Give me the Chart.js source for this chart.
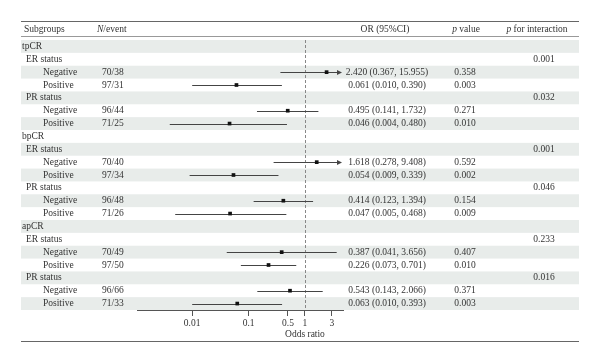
<!DOCTYPE html>
<html>
<head>
<meta charset="utf-8">
<script src="https://cdn.jsdelivr.net/npm/chart.js@4/dist/chart.umd.min.js"></script>
<style>
  html, body { margin: 0; padding: 0; background: #fff; }
</style>
</head>
<body>
<canvas id="forest" width="600" height="363"></canvas>
<script>
// rows of the table, top to bottom
const rowLabels = ['tpCR', 'ER status', 'Negative', 'Positive', 'PR status', 'Negative', 'Positive',
                   'bpCR', 'ER status', 'Negative', 'Positive', 'PR status', 'Negative', 'Positive',
                   'apCR', 'ER status', 'Negative', 'Positive', 'PR status', 'Negative', 'Positive'];
const rowLevel = [0, 1, 2, 2, 1, 2, 2, 0, 1, 2, 2, 1, 2, 2, 0, 1, 2, 2, 1, 2, 2];
const nEvent = ['', '', '70/38', '97/31', '', '96/44', '71/25',
                '', '', '70/40', '97/34', '', '96/48', '71/26',
                '', '', '70/49', '97/50', '', '96/66', '71/33'];
const oddsRatio = [null, null, 2.420, 0.061, null, 0.495, 0.046,
                   null, null, 1.618, 0.054, null, 0.414, 0.047,
                   null, null, 0.387, 0.226, null, 0.543, 0.063];
const ciLow = [null, null, 0.367, 0.010, null, 0.141, 0.004,
               null, null, 0.278, 0.009, null, 0.123, 0.005,
               null, null, 0.041, 0.073, null, 0.143, 0.010];
const ciHigh = [null, null, 15.955, 0.390, null, 1.732, 0.480,
                null, null, 9.408, 0.339, null, 1.394, 0.468,
                null, null, 3.656, 0.701, null, 2.066, 0.393];
const pValue = ['', '', '0.358', '0.003', '', '0.271', '0.010',
                '', '', '0.592', '0.002', '', '0.154', '0.009',
                '', '', '0.407', '0.010', '', '0.371', '0.003'];
const pInteraction = ['', '0.001', '', '', '0.032', '', '',
                      '', '0.001', '', '', '0.046', '', '',
                      '', '0.233', '', '', '0.016', '', ''];
const xTicks = [0.01, 0.1, 0.5, 1, 3];
const xTickLabels = ['0.01', '0.1', '0.5', '1', '3'];

const SERIF = '"Liberation Serif", "DejaVu Serif", serif';
const TEXT = '#333';
const BAND = '#e8ecea';
const TABLE_L = 21, TABLE_R = 579;

const points = [];
oddsRatio.forEach((v, i) => { if (v !== null) points.push({ x: v, y: i }); });

function drawParts(ctx, parts, x, y, align) {
    // parts: [[text, italic], ...]
    let total = 0;
    parts.forEach(p => {
        ctx.font = (p[1] ? 'italic ' : '') + '9.5px ' + SERIF;
        total += ctx.measureText(p[0]).width;
    });
    let cx = align === 'center' ? x - total / 2 : x;
    ctx.textAlign = 'left';
    parts.forEach(p => {
        ctx.font = (p[1] ? 'italic ' : '') + '9.5px ' + SERIF;
        ctx.fillText(p[0], cx, y);
        cx += ctx.measureText(p[0]).width;
    });
}

const tablePlugin = {
    id: 'forestTable',
    beforeDatasetsDraw(chart) {
        const ctx = chart.ctx;
        const xs = chart.scales.x, ys = chart.scales.y;
        const area = chart.chartArea;
        ctx.save();

        // row shading
        ctx.fillStyle = BAND;
        rowLabels.forEach((r, i) => {
            if (i % 2 !== 0) return;
            const t = ys.getPixelForValue(i - 0.5), b = ys.getPixelForValue(i + 0.5);
            ctx.fillRect(TABLE_L, t, TABLE_R - TABLE_L, b - t);
        });

        // rules
        ctx.strokeStyle = '#666';
        ctx.lineWidth = 1;
        ctx.beginPath();
        ctx.moveTo(TABLE_L, 21.5); ctx.lineTo(TABLE_R, 21.5);
        ctx.moveTo(TABLE_L, 341.5); ctx.lineTo(TABLE_R, 341.5);
        ctx.stroke();
        ctx.strokeStyle = '#999';
        ctx.beginPath();
        ctx.moveTo(TABLE_L, 36.5); ctx.lineTo(TABLE_R, 36.5);
        ctx.stroke();

        // header
        ctx.fillStyle = TEXT;
        ctx.textBaseline = 'middle';
        const hy = 29;
        drawParts(ctx, [['Subgroups', false]], 24, hy, 'left');
        drawParts(ctx, [['N', true], ['/event', false]], 97, hy, 'left');
        drawParts(ctx, [['OR (95%CI)', false]], 385, hy, 'center');
        drawParts(ctx, [['p', true], [' value', false]], 466, hy, 'center');
        drawParts(ctx, [['p', true], [' for interaction', false]], 537, hy, 'center');

        // rows
        const indent = [22, 26, 43];
        rowLabels.forEach((r, i) => {
            const y = ys.getPixelForValue(i);
            drawParts(ctx, [[r, false]], indent[rowLevel[i]], y, 'left');
            if (nEvent[i]) drawParts(ctx, [[nEvent[i], false]], 102, y, 'left');
            if (oddsRatio[i] !== null) {
                const s = oddsRatio[i].toFixed(3) + ' (' + ciLow[i].toFixed(3) + ', ' + ciHigh[i].toFixed(3) + ')';
                drawParts(ctx, [[s, false]], 387, y, 'center');
            }
            if (pValue[i]) drawParts(ctx, [[pValue[i], false]], 465, y, 'center');
            if (pInteraction[i]) drawParts(ctx, [[pInteraction[i], false]], 544, y, 'center');
        });

        // reference line at OR = 1
        const x1 = Math.round(xs.getPixelForValue(1)) + 0.5;
        ctx.strokeStyle = '#888';
        ctx.setLineDash([3, 2]);
        ctx.beginPath();
        ctx.moveTo(x1, area.top);
        ctx.lineTo(x1, area.bottom);
        ctx.stroke();
        ctx.setLineDash([]);

        // confidence intervals
        ctx.strokeStyle = '#444';
        ctx.fillStyle = '#444';
        rowLabels.forEach((r, i) => {
            if (oddsRatio[i] === null) return;
            const y = Math.round(ys.getPixelForValue(i)) + 0.5;
            const xl = Math.max(xs.getPixelForValue(ciLow[i]), area.left);
            const over = ciHigh[i] > xs.max;
            const xr = over ? area.right - 1 : xs.getPixelForValue(ciHigh[i]);
            ctx.beginPath();
            ctx.moveTo(xl, y);
            ctx.lineTo(over ? xr - 3 : xr, y);
            ctx.stroke();
            if (over) {
                ctx.beginPath();
                ctx.moveTo(xr, y);
                ctx.lineTo(xr - 5, y - 2.5);
                ctx.lineTo(xr - 5, y + 2.5);
                ctx.closePath();
                ctx.fill();
            }
        });

        // axis title
        ctx.fillStyle = TEXT;
        drawParts(ctx, [['Odds ratio', false]], xs.getPixelForValue(1), 334, 'center');
        ctx.restore();
    }
};

new Chart(document.getElementById('forest'), {
    type: 'scatter',
    data: {
        datasets: [{
            data: points,
            pointStyle: 'rect',
            pointRadius: 2.6,
            backgroundColor: '#111',
            borderColor: '#111',
            borderWidth: 0
        }]
    },
    options: {
        responsive: false,
        animation: false,
        devicePixelRatio: 1,
        layout: { padding: { left: 137, right: 257, top: 40, bottom: 23 } },
        plugins: { legend: { display: false }, tooltip: { enabled: false } },
        scales: {
            x: {
                type: 'logarithmic',
                min: 0.00105,
                max: 4.73,
                afterBuildTicks: s => { s.ticks = xTicks.map(v => ({ value: v })); },
                afterFit: s => { s.height = 30; },
                ticks: {
                    autoSkip: false,
                    maxRotation: 0,
                    padding: 2,
                    color: TEXT,
                    font: { family: SERIF, size: 9.5 },
                    callback: (v, idx) => xTickLabels[idx]
                },
                grid: { drawOnChartArea: false, drawTicks: true, tickLength: 6, color: '#555' },
                border: { display: true, color: '#555', width: 1 }
            },
            y: {
                type: 'linear',
                min: -0.5,
                max: 20.5,
                reverse: true,
                display: false
            }
        }
    },
    plugins: [tablePlugin]
});
</script>
</body>
</html>
